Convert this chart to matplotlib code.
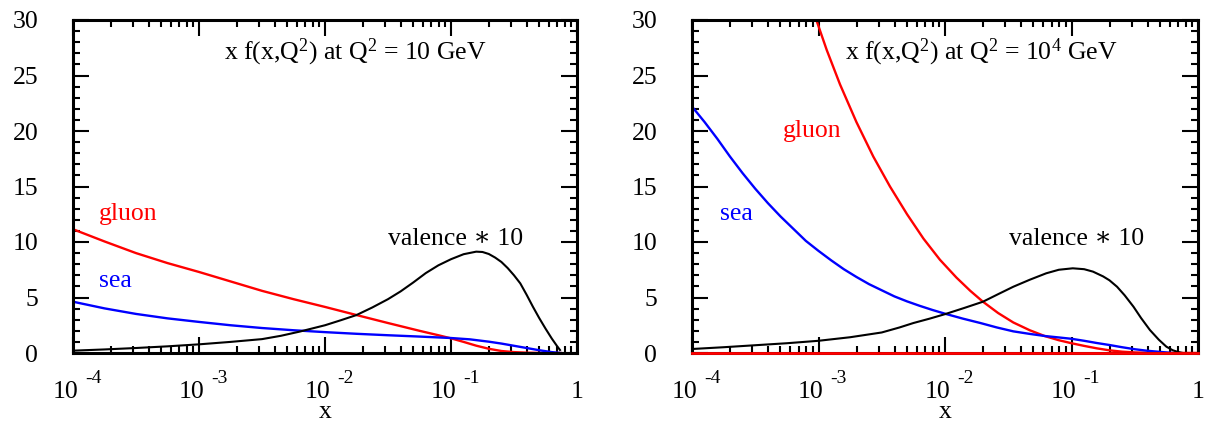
import numpy as np
import matplotlib
matplotlib.use("Agg")
import matplotlib.pyplot as plt
from matplotlib.ticker import MultipleLocator, LogLocator, NullFormatter, NullLocator, FixedLocator, FixedFormatter
from matplotlib.transforms import ScaledTranslation

plt.rcParams['font.family'] = ['Liberation Serif', 'DejaVu Serif']
plt.rcParams['mathtext.fontset'] = 'custom'
plt.rcParams['mathtext.rm'] = 'Liberation Serif'
plt.rcParams['mathtext.it'] = 'Liberation Serif:italic'
plt.rcParams['mathtext.bf'] = 'Liberation Serif:bold'

# ---------------- data (log10 x, values) ----------------
# Q^2 = 10 GeV
q10_gluon_logx = [-4.0, -3.75, -3.5, -3.25, -3.0, -2.75, -2.5, -2.25, -2.0, -1.75, -1.5, -1.25, -1.1,
                  -1.0, -0.9, -0.8, -0.7, -0.6, -0.5, -0.4, -0.25, -0.13]
q10_gluon_val = [11.15, 10.05, 9.0, 8.1, 7.3, 6.45, 5.6, 4.85, 4.15, 3.42, 2.7, 2.0, 1.6,
                 1.32, 1.0, 0.66, 0.38, 0.18, 0.08, 0.03, 0.0, 0.0]

q10_sea_logx = [-4.0, -3.75, -3.5, -3.25, -3.0, -2.75, -2.5, -2.25, -2.0, -1.75, -1.5, -1.25, -1.0,
                -0.85, -0.7, -0.6, -0.5, -0.4, -0.3, -0.2, -0.13]
q10_sea_val = [4.62, 4.02, 3.52, 3.12, 2.8, 2.5, 2.25, 2.05, 1.88, 1.73, 1.6, 1.48, 1.35,
               1.23, 1.02, 0.85, 0.65, 0.45, 0.25, 0.08, 0.0]

q10_val_logx = [-4.0, -3.75, -3.5, -3.25, -3.0, -2.75, -2.5, -2.35, -2.2, -2.0, -1.875, -1.75, -1.625,
                -1.5, -1.4, -1.3, -1.2, -1.1, -1.0, -0.9, -0.8, -0.75, -0.7, -0.65, -0.6, -0.55,
                -0.5, -0.45, -0.4, -0.35, -0.3, -0.25, -0.2, -0.16, -0.135]
q10_val_val = [0.21, 0.32, 0.45, 0.6, 0.78, 1.0, 1.25, 1.55, 1.93, 2.5, 2.95, 3.42, 4.1,
               4.85, 5.55, 6.35, 7.2, 7.9, 8.45, 8.9, 9.13, 9.1, 8.92, 8.6, 8.2, 7.65,
               7.0, 6.27, 5.25, 4.17, 3.15, 2.2, 1.3, 0.65, 0.27]

# Q^2 = 10^4 GeV
q4_gluon_logx = [-3.1, -3.02, -2.935, -2.83, -2.70, -2.567, -2.435, -2.3, -2.17, -2.04, -1.91, -1.8,
                 -1.7, -1.58, -1.46, -1.33, -1.21, -1.1, -1.0, -0.9, -0.8, -0.7, -0.6, -0.5,
                 -0.4, -0.3, 0.0]
q4_gluon_val = [33.5, 30.1, 27.3, 24.2, 20.8, 17.7, 15.0, 12.5, 10.3, 8.4, 6.8, 5.6,
                4.62, 3.6, 2.75, 2.05, 1.52, 1.15, 0.88, 0.64, 0.42, 0.24, 0.12, 0.05,
                0.02, 0.0, 0.0]

q4_sea_logx = [-4.0, -3.9, -3.8, -3.7, -3.6, -3.5, -3.4, -3.3, -3.2, -3.1, -3.0, -2.9, -2.8, -2.7,
               -2.6, -2.5, -2.4, -2.3, -2.2, -2.1, -2.0, -1.86, -1.72, -1.59, -1.46, -1.33, -1.21,
               -1.1, -1.0, -0.9, -0.8, -0.7, -0.6, -0.5, -0.4, -0.3, -0.2]
q4_sea_val = [22.2, 20.8, 19.3, 17.7, 16.2, 14.8, 13.5, 12.3, 11.2, 10.1, 9.2, 8.35, 7.55, 6.85,
              6.2, 5.65, 5.1, 4.65, 4.25, 3.88, 3.54, 3.1, 2.7, 2.3, 1.95, 1.72, 1.53,
              1.4, 1.28, 1.1, 0.9, 0.72, 0.52, 0.34, 0.2, 0.1, 0.0]

q4_val_logx = [-4.0, -3.75, -3.5, -3.25, -3.0, -2.75, -2.5, -2.36, -2.25, -2.12, -2.0, -1.85, -1.7,
               -1.58, -1.46, -1.33, -1.2, -1.1, -0.99, -0.9, -0.83, -0.75, -0.7, -0.64, -0.58,
               -0.51, -0.45, -0.38, -0.31, -0.25, -0.2, -0.16, -0.12]
q4_val_val = [0.36, 0.52, 0.7, 0.88, 1.1, 1.42, 1.85, 2.3, 2.7, 3.1, 3.5, 4.05, 4.62,
              5.3, 5.97, 6.6, 7.18, 7.5, 7.63, 7.55, 7.33, 6.9, 6.55, 5.97, 5.2,
              4.17, 3.15, 2.07, 1.2, 0.57, 0.25, 0.1, 0.0]

y_ticks = [0, 5, 10, 15, 20, 25, 30]
x_ticks = [1e-4, 1e-3, 1e-2, 1e-1, 1.0]
x_base_labels = ['10', '10', '10', '10', '1']
x_exp_ticks = [1e-4, 1e-3, 1e-2, 1e-1]
x_exp_labels = ['-4', '-3', '-2', '-1']

titles = [r'x f(x,Q$^2$) at Q$^2$ = 10 GeV', r'x f(x,Q$^2$) at Q$^2$ = 10$^4$ GeV']

FS = 18.5

fig = plt.figure(figsize=(12.05, 4.21), dpi=100)
axL = fig.add_axes([73/1205, 68/421, 504/1205, 333/421])
axR = fig.add_axes([692/1205, 68/421, 506/1205, 333/421])


def style(ax):
    ax.set_xscale('log')
    ax.set_xlim(1e-4, 1)
    ax.set_ylim(0, 30)
    ax.yaxis.set_major_locator(FixedLocator(y_ticks))
    ax.yaxis.set_minor_locator(MultipleLocator(1))
    ax.xaxis.set_major_locator(FixedLocator(x_ticks))
    ax.xaxis.set_major_formatter(FixedFormatter(x_base_labels))
    ax.xaxis.set_minor_locator(LogLocator(base=10, subs=np.arange(2, 10)))
    ax.xaxis.set_minor_formatter(NullFormatter())
    for s in ax.spines.values():
        s.set_linewidth(2.2)
    ax.tick_params(which='both', direction='in', top=True, right=True, width=1.5)
    ax.tick_params(which='major', length=11.5)
    ax.tick_params(which='minor', length=5)
    ax.tick_params(axis='y', which='major', pad=25, labelsize=FS)
    ax.tick_params(axis='x', which='major', pad=20, labelsize=FS)
    ax.set_xlabel('x', fontsize=FS, labelpad=-1.5)
    # shift the "10" bases left a little (the "1" stays centred)
    for lab, txt in zip(ax.get_xticklabels(), x_base_labels):
        if txt == '10':
            lab.set_transform(lab.get_transform() + ScaledTranslation(-0.075, 0, fig.dpi_scale_trans))
    # exponents as a secondary axis
    sec = ax.secondary_xaxis('bottom')
    sec.xaxis.set_major_locator(FixedLocator(x_exp_ticks))
    sec.xaxis.set_major_formatter(FixedFormatter(x_exp_labels))
    sec.xaxis.set_minor_locator(NullLocator())
    sec.spines['bottom'].set_visible(False)
    sec.tick_params(length=0, pad=12.5, labelsize=14)
    fig.canvas.draw()
    for lab in sec.get_xticklabels():
        lab.set_transform(lab.get_transform() + ScaledTranslation(0.20, 0, fig.dpi_scale_trans))


style(axL)
style(axR)

lw_c = 1.7
axL.plot(10 ** np.array(q10_gluon_logx), q10_gluon_val, color='#ff0000', lw=lw_c)
axL.plot(10 ** np.array(q10_sea_logx), q10_sea_val, color='#0000ff', lw=lw_c)
axL.plot(10 ** np.array(q10_val_logx), q10_val_val, color='black', lw=1.5)

axR.axhline(0, color='#ff0000', lw=2.0, zorder=3, clip_on=False)
axR.plot(10 ** np.array(q4_gluon_logx), q4_gluon_val, color='#ff0000', lw=lw_c)
axR.plot(10 ** np.array(q4_sea_logx), q4_sea_val, color='#0000ff', lw=lw_c)
axR.plot(10 ** np.array(q4_val_logx), q4_val_val, color='black', lw=1.5)

axL.text(0.30, 0.88, titles[0], transform=axL.transAxes, fontsize=FS, ha='left', va='baseline')
axR.text(0.303, 0.88, titles[1], transform=axR.transAxes, fontsize=FS, ha='left', va='baseline')

star = '\u2217'
axL.text(0.052, 0.40, 'gluon', transform=axL.transAxes, fontsize=FS, color='#ff0000', va='baseline')
axL.text(0.052, 0.198, 'sea', transform=axL.transAxes, fontsize=FS, color='#0000ff', va='baseline')
axL.text(0.625, 0.324, 'valence ' + star + ' 10', transform=axL.transAxes, fontsize=FS, va='baseline')

axR.text(0.18, 0.649, 'gluon', transform=axR.transAxes, fontsize=FS, color='#ff0000', va='baseline')
axR.text(0.055, 0.40, 'sea', transform=axR.transAxes, fontsize=FS, color='#0000ff', va='baseline')
axR.text(0.626, 0.324, 'valence ' + star + ' 10', transform=axR.transAxes, fontsize=FS, va='baseline')

fig.savefig('out.png', dpi=100)
